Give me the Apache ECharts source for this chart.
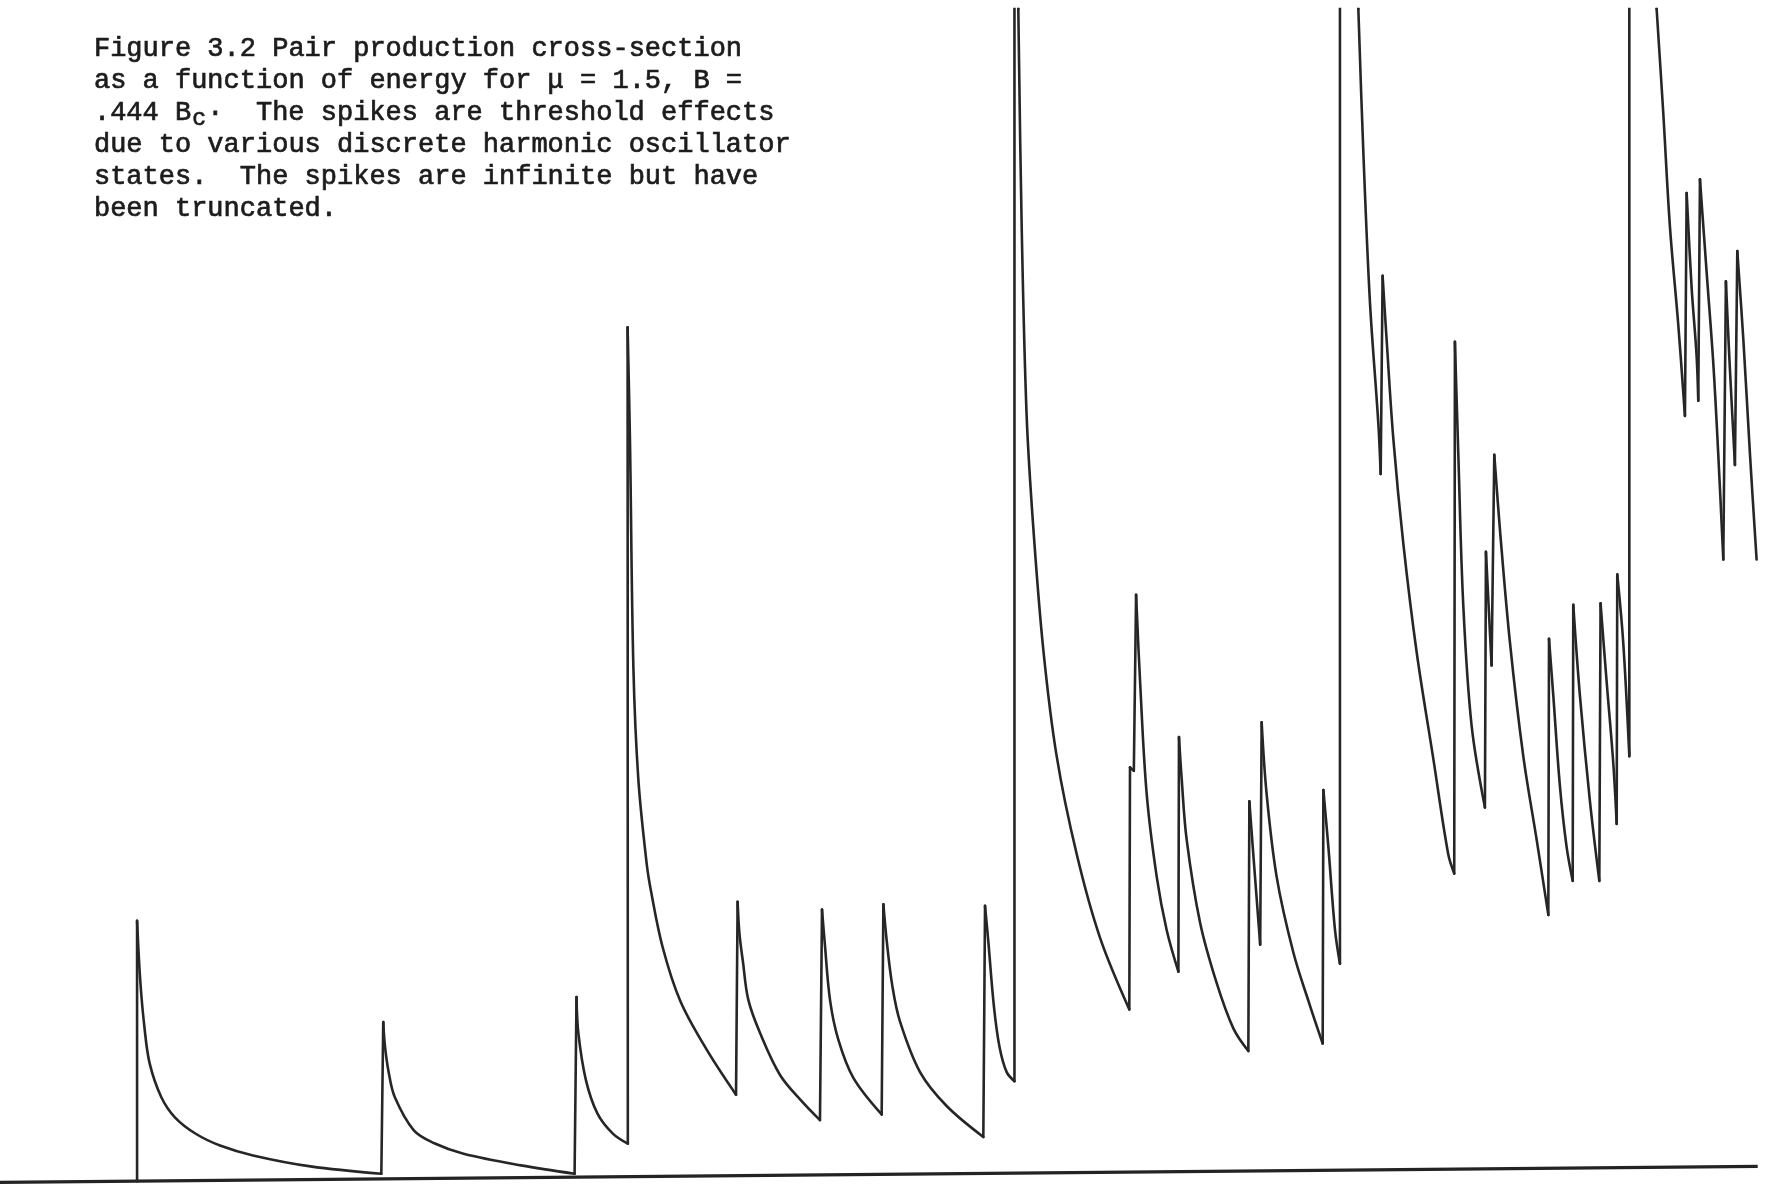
<!DOCTYPE html>
<html><head><meta charset="utf-8">
<script src="https://cdn.jsdelivr.net/npm/echarts@6/dist/echarts.min.js"></script>
<style>html,body{margin:0;padding:0;background:#fff;}#c{width:1769px;height:1185px;}</style>
</head><body><div id="c"></div>
<script>
// Caption (typewritten)
const captionLines = [
  "Figure 3.2 Pair production cross-section",
  "as a function of energy for \u03bc = 1.5, B =",
  null,
  "due to various discrete harmonic oscillator",
  "states.  The spikes are infinite but have",
  "been truncated."
];
const line3 = [".444 B", "c", ".", "  The spikes are threshold effects"];

// Axis ranges (arbitrary units: energy, cross-section)
const energyRange = [0, 156.8];
const sigmaRange = [0, 104.2];     // plot truncated at this level
const INF = 150;                   // spikes are infinite (drawn above truncation)

// Baseline (energy axis as drawn, slightly tilted in the scan)
const baseline = [[0, 0.23], [155.8, 1.65]];

// Curve start on the baseline
const start = [12.15, 0.34];

// Decaying branches after each threshold ([energy, sigma]); first point = spike top
const branch01 = [[12.15,23.4],[12.43,18.14],[12.8,14.0],[13.27,10.75],[14.29,7.8],[15.5,6.0],[17.35,4.54],[19.5,3.5],[22.43,2.62],[27.52,1.65],[33.8,1.0]];
const branch02 = [[33.97,14.44],[34.13,12.23],[34.45,10.0],[34.99,7.79],[36.68,4.84],[38.5,3.7],[41.09,2.77],[46.18,1.74],[50.93,1.0]];
const branch03 = [[51.1,16.66],[51.27,13.41],[51.94,9.27],[52.96,6.32],[54.32,4.55],[55.65,3.66]];
const branch04 = [[55.63,76.0],[55.84,65.93],[56.14,45.95],[56.58,35.96],[57.32,28.47],[57.71,26.0],[58.73,21.09],[60.3,16.3],[62.64,11.99],[65.24,8.0]];
const branch05 = [[65.38,25.1],[65.55,22.2],[65.85,19.8],[66.33,16.4],[67.36,13.49],[69.14,9.75],[71.0,7.5],[72.68,5.75]];
const branch06 = [[72.86,24.4],[73.1,21.5],[73.57,16.4],[74.3,12.9],[75.64,9.49],[78.15,6.25]];
const branch07 = [[78.3,24.88],[78.6,21.6],[79.1,17.6],[79.77,14.49],[81.55,10.0],[83.91,7.0],[87.16,4.26]];
const branch08 = [[87.31,24.73],[87.6,21.6],[88.1,15.8],[88.6,12.2],[89.23,10.0],[89.92,9.2]];
const branch09 = [[90.26,104.2],[90.56,84.9],[91.0,68.15],[91.6,58.1],[92.48,47.4],[93.66,38.0],[95.44,29.3],[97.5,21.92],[100.1,15.56]];
const branch10 = [[100.16,37.0],[100.5,36.7]];
const branch11 = [[100.7,52.3],[101.05,44.7],[101.64,34.65],[102.53,27.3],[103.41,22.6],[104.45,18.9]];
const branch12 = [[104.5,39.7],[104.74,36.0],[105.18,30.63],[106.37,23.26],[107.84,17.9],[109.32,13.88],[110.65,11.87]];
const branch13 = [[110.74,34.0],[111.09,29.3],[111.7,21.3]];
const branch14 = [[111.83,41.0],[112.27,34.65],[113.16,27.3],[114.64,20.6],[116.11,15.9],[117.24,12.54]];
const branch15 = [[117.3,35.0],[117.74,30.0],[118.33,22.6],[118.77,19.6]];
const branch16 = [[120.4,104.2],[120.84,91.6],[121.43,78.2],[122.17,67.5],[122.38,63.0]];
const branch17 = [[122.55,80.55],[122.91,74.85],[123.5,66.14],[124.39,56.8],[125.57,47.2],[127.04,37.8],[128.37,29.3],[128.9,27.6]];
const branch18 = [[128.96,74.72],[129.26,64.8],[129.7,51.4],[130.44,40.7],[131.62,33.45]];
const branch19 = [[131.71,56.1],[132.21,46.04]];
const branch20 = [[132.45,64.7],[132.95,58.1],[133.84,48.05],[135.02,38.0],[136.2,30.63],[137.24,23.93]];
const branch21 = [[137.3,48.4],[137.68,43.36],[138.27,35.32],[138.86,29.96],[139.4,26.95]];
const branch22 = [[139.45,51.4],[140.04,43.36],[140.93,34.0],[141.76,26.95]];
const branch23 = [[141.87,51.54],[142.4,44.7],[143.0,37.33],[143.3,32.0]];
const branch24 = [[143.35,54.1],[143.88,48.05],[144.42,38.0]];
const branch25 = [[146.84,104.2],[147.43,94.95],[148.02,84.9],[148.76,76.2],[149.35,68.15]];
const branch26 = [[149.5,87.9],[149.94,79.54],[150.38,73.5],[150.53,69.5]];
const branch27 = [[150.68,89.12],[151.27,80.9],[151.86,72.84],[152.3,64.8],[152.75,55.42]];
const branch28 = [[152.98,80.08],[153.3,73.0],[153.78,63.8]];
const branch29 = [[153.99,82.76],[154.53,74.85],[155.11,64.8],[155.7,55.42]];

const branches = [branch01, branch02, branch03, branch04, branch05, branch06, branch07, branch08,
  branch09, branch10, branch11, branch12, branch13, branch14, branch15, branch16, branch17,
  branch18, branch19, branch20, branch21, branch22, branch23, branch24, branch25, branch26,
  branch27, branch28, branch29];

const chart = echarts.init(document.getElementById('c'), null, {renderer: 'canvas'});

const INK = '#262626';
const lineStyle = {color: INK, width: 2.6, cap: 'round', join: 'round'};
const series = [
  {type: 'line', data: baseline, symbol: 'none', clip: false, silent: true,
    lineStyle: {color: '#232323', width: 3.2}, z: 2}
];
let prev = start;
branches.forEach((b) => {
  const top = b[0];
  let riser;
  if (top[1] >= sigmaRange[1]) {
    // truncated (infinite) spike: rises off the chart, comes back at the top edge
    riser = [prev, [prev[0], INF], [top[0], INF], top];
  } else {
    riser = [prev, top];
  }
  series.push({type: 'line', data: riser, symbol: 'none', clip: true, silent: true, lineStyle, z: 3});
  series.push({type: 'line', data: b, symbol: 'none', clip: true, silent: true,
    smooth: 0.35, lineStyle, z: 3});
  prev = b[b.length - 1];
});

const FONT = 'Liberation Mono';
const FS = 27, CW = FS * 0.6, X0 = 93.6, Y0 = 48, LH = 32;
const txt = (t, left, top, size) => ({type: 'text', left, top,
  style: {text: t, fill: '#1c1c1c', stroke: '#1c1c1c', lineWidth: 0.7, font: size + 'px "' + FONT + '"'}});
const graphics = [];
captionLines.forEach((t, i) => {
  if (t === null) return;
  graphics.push(txt(t, X0, Y0 + LH * i - FS / 2, FS));
});
{
  const y3 = Y0 + LH * 2 - FS / 2;
  graphics.push(txt(line3[0], X0, y3, FS));
  graphics.push(txt(line3[1], X0 + 6 * CW + 1, y3 + 9, 23));
  graphics.push(txt(line3[2], X0 + 7 * CW, y3 - 5, FS));
  graphics.push(txt(line3[3], X0 + 8 * CW, y3, FS));
}

chart.setOption({
  animation: false,
  backgroundColor: '#ffffff',
  grid: {left: 0, right: 0, top: 9, bottom: 0, containLabel: false},
  xAxis: {type: 'value', min: energyRange[0], max: energyRange[1], show: false},
  yAxis: {type: 'value', min: sigmaRange[0], max: sigmaRange[1], show: false},
  graphic: graphics,
  series
});
</script></body></html>
